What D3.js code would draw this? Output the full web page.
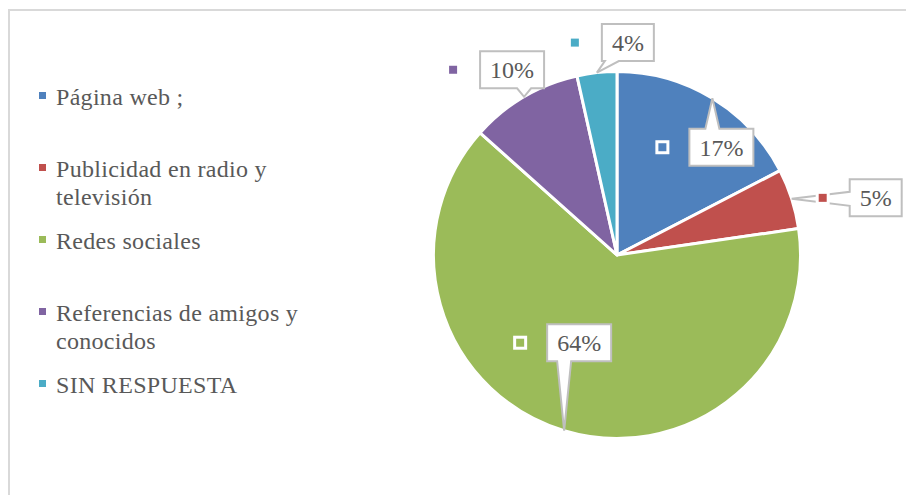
<!DOCTYPE html>
<html>
<head>
<meta charset="utf-8">
<script src="https://cdn.jsdelivr.net/npm/d3@7/dist/d3.min.js"></script>
<style>
  body { margin: 0; background: #fff; }
</style>
</head>
<body>
<div id="chart-area"></div>
<script>
// data
var categories = ["Página web ;", "Publicidad en radio y televisión", "Redes sociales",
                  "Referencias de amigos y conocidos", "SIN RESPUESTA"];
var legendLines = [["Página web ;"],
                   ["Publicidad en radio y", "televisión"],
                   ["Redes sociales"],
                   ["Referencias de amigos y", "conocidos"],
                   ["SIN RESPUESTA"]];
var shares = [17.4, 5.3, 63.9, 9.9, 3.5];
var colors = ["#4F81BD", "#C0504D", "#9BBB59", "#8064A2", "#4BACC6"];

// where each label box sits, relative to the slice edge it points at
var labelOffsets = [[9, 49], [84, -1], [15, -88], [-12, -27], [31, -30]];

var svgWidth = 906, svgHeight = 495;
var cx = 617, cy = 255, radius = 183.5;
var textColor = "#595959";
var fontFamily = "'Liberation Serif', 'Times New Roman', serif";

var svg = d3.select("#chart-area")
            .append("svg")
            .attr("width", svgWidth)
            .attr("height", svgHeight);

// chart frame (only top and left edges are in view)
svg.append("path")
   .attr("d", "M9," + svgHeight + " V10 H" + svgWidth)
   .attr("fill", "none")
   .attr("stroke", "#d9d9d9")
   .attr("stroke-width", 2);

// legend
var legend = svg.append("g");
var legendItems = legend.selectAll("g.item")
                        .data(categories)
                        .enter()
                        .append("g")
                        .attr("class", "item")
                        .attr("transform", (d, i) => "translate(39," + (105 + i * 72) + ")");

legendItems.append("rect")
           .attr("x", 0)
           .attr("y", -13)
           .attr("width", 7)
           .attr("height", 7)
           .attr("fill", (d, i) => colors[i]);

legendItems.append("text")
           .attr("font-family", fontFamily)
           .attr("font-size", "24px")
           .attr("letter-spacing", "0.3px")
           .attr("fill", textColor)
           .selectAll("tspan")
           .data((d, i) => legendLines[i])
           .enter()
           .append("tspan")
           .attr("x", 17)
           .attr("y", (d, j) => j * 28)
           .text(d => d);

// pie
var pie = d3.pie().sort(null).value(d => d);
var arcs = pie(shares);
var arc = d3.arc().innerRadius(0).outerRadius(radius);

var pieG = svg.append("g")
              .attr("transform", "translate(" + cx + "," + cy + ")");

pieG.selectAll("path.slice")
    .data(arcs)
    .enter()
    .append("path")
    .attr("class", "slice")
    .attr("d", arc)
    .attr("fill", (d, i) => colors[i])
    .attr("stroke", "#fff")
    .attr("stroke-width", 3)
    .attr("stroke-linejoin", "round");

// data labels with callout pointers
var fmt = d3.format(".0f");
var boxH = 37, pad = 10, halfBase = 7;

arcs.forEach(function(d, i) {
    var mid = (d.startAngle + d.endAngle) / 2;
    var tip = [radius * Math.sin(mid), -radius * Math.cos(mid)];
    var c = [tip[0] + labelOffsets[i][0], tip[1] + labelOffsets[i][1]];

    var g = pieG.append("g");
    var text = g.append("text")
                .attr("x", c[0])
                .attr("y", c[1])
                .attr("dy", "0.35em")
                .attr("text-anchor", "middle")
                .attr("font-family", fontFamily)
                .attr("font-size", "24px")
                .attr("fill", textColor)
                .text(fmt(shares[i]) + "%");

    var boxW = text.node().getComputedTextLength() + 2 * pad;
    var l = c[0] - boxW / 2, r = c[0] + boxW / 2;
    var t = c[1] - boxH / 2, b = c[1] + boxH / 2;

    var dx = (tip[0] - c[0]) / (boxW / 2);
    var dy = (tip[1] - c[1]) / (boxH / 2);
    var pts;
    if (Math.abs(dy) >= Math.abs(dx)) {
        var bx = Math.max(l + 10, Math.min(r - 10, tip[0]));
        if (dy < 0) {
            pts = [[l, t], [bx - halfBase, t], tip, [bx + halfBase, t], [r, t], [r, b], [l, b]];
        } else {
            pts = [[l, t], [r, t], [r, b], [bx + halfBase, b], tip, [bx - halfBase, b], [l, b]];
        }
    } else {
        var by = Math.max(t + 8, Math.min(b - 8, tip[1]));
        if (dx > 0) {
            pts = [[l, t], [r, t], [r, by - halfBase], tip, [r, by + halfBase], [r, b], [l, b]];
        } else {
            pts = [[l, t], [r, t], [r, b], [l, b], [l, by + halfBase], tip, [l, by - halfBase]];
        }
    }

    g.insert("path", "text")
     .attr("d", "M" + pts.map(p => p.join(",")).join("L") + "Z")
     .attr("fill", "#fff")
     .attr("stroke", "#bfbfbf")
     .attr("stroke-width", 2)
     .attr("stroke-linejoin", "miter");

    // legend key next to the label
    g.append("rect")
     .attr("x", l - 27 - 5.5)
     .attr("y", c[1] - 5.5)
     .attr("width", 11)
     .attr("height", 11)
     .attr("fill", colors[i])
     .attr("stroke", "#fff")
     .attr("stroke-width", 3);
});
</script>
</body>
</html>
